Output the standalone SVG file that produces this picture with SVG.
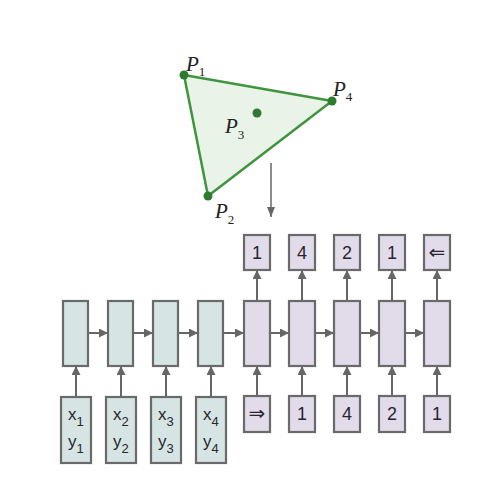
<svg xmlns="http://www.w3.org/2000/svg" width="485" height="504" viewBox="0 0 485 504">
<defs>
<marker id="ah" viewBox="0 0 10 10" refX="10" refY="5" markerWidth="4.5" markerHeight="4.5" orient="auto" markerUnits="strokeWidth">
<path d="M0,0 L10,5 L0,10 z" fill="#666"/>
</marker>
<marker id="ah2" viewBox="0 0 10 10" refX="10" refY="5" markerWidth="7" markerHeight="7" orient="auto" markerUnits="strokeWidth">
<path d="M0,1 L10,5 L0,9 z" fill="#666"/>
</marker>
</defs>
<style>
.enc{fill:#d6e4e3;stroke:#6a6a6a;stroke-width:2.2}
.dec{fill:#e2dbe9;stroke:#6a6a6a;stroke-width:2.2}
.t{font-family:"Liberation Sans",Arial,sans-serif;font-size:18px;fill:#262630;text-anchor:middle}
.ar{font-family:"DejaVu Sans",sans-serif;font-size:20px;fill:#262630;text-anchor:middle}
.xy{font-family:"Liberation Sans",Arial,sans-serif;font-size:17px;fill:#262630}
.sub{font-size:13px}
.p{font-family:"Liberation Serif","Times New Roman",serif;font-style:italic;font-size:21px;fill:#222}
.ps{font-style:normal;font-size:13px}
.c{stroke:#666;stroke-width:2;fill:none;marker-end:url(#ah)}
</style>
<rect width="485" height="504" fill="#fff"/>

<g id="triangle">
<polygon points="184,75 332,101 208,196" fill="#e9f3e7" stroke="#3f9440" stroke-width="2.5" stroke-linejoin="round"/>
<circle cx="184" cy="75" r="4.5" fill="#2e7a30"/>
<circle cx="332" cy="101" r="4.5" fill="#2e7a30"/>
<circle cx="208" cy="196" r="4.5" fill="#2e7a30"/>
<circle cx="257" cy="113" r="4.5" fill="#2e7a30"/>
<text class="p" x="186" y="71">P<tspan class="ps" dy="5">1</tspan></text>
<text class="p" x="333" y="96">P<tspan class="ps" dy="5">4</tspan></text>
<text class="p" x="225" y="133">P<tspan class="ps" dy="6">3</tspan></text>
<text class="p" x="215" y="218">P<tspan class="ps" dy="6">2</tspan></text>
</g>

<g id="connectors">
<line x1="271" y1="163" x2="271" y2="217" stroke="#666" stroke-width="1.5" marker-end="url(#ah2)"/>
<line class="c" x1="88" y1="333" x2="108" y2="333"/>
<line class="c" x1="133" y1="333" x2="153" y2="333"/>
<line class="c" x1="178" y1="333" x2="198" y2="333"/>
<line class="c" x1="223" y1="333" x2="244" y2="333"/>
<line class="c" x1="270" y1="333" x2="289" y2="333"/>
<line class="c" x1="315" y1="333" x2="334" y2="333"/>
<line class="c" x1="360" y1="333" x2="379" y2="333"/>
<line class="c" x1="405" y1="333" x2="424" y2="333"/>
<line class="c" x1="76" y1="397" x2="76" y2="366"/>
<line class="c" x1="121" y1="397" x2="121" y2="366"/>
<line class="c" x1="166" y1="397" x2="166" y2="366"/>
<line class="c" x1="211" y1="397" x2="211" y2="366"/>
<line class="c" x1="257" y1="396" x2="257" y2="366"/>
<line class="c" x1="302" y1="396" x2="302" y2="366"/>
<line class="c" x1="347" y1="396" x2="347" y2="366"/>
<line class="c" x1="392" y1="396" x2="392" y2="366"/>
<line class="c" x1="437" y1="396" x2="437" y2="366"/>
<line class="c" x1="257" y1="301" x2="257" y2="270"/>
<line class="c" x1="302" y1="301" x2="302" y2="270"/>
<line class="c" x1="347" y1="301" x2="347" y2="270"/>
<line class="c" x1="392" y1="301" x2="392" y2="270"/>
<line class="c" x1="437" y1="301" x2="437" y2="270"/>
</g>

<g id="enc1"><rect class="enc" x="63" y="301" width="25" height="65"/></g>
<g id="enc2"><rect class="enc" x="108" y="301" width="25" height="65"/></g>
<g id="enc3"><rect class="enc" x="153" y="301" width="25" height="65"/></g>
<g id="enc4"><rect class="enc" x="198" y="301" width="25" height="65"/></g>

<g id="in1"><rect class="enc" x="61" y="397" width="30" height="66"/>
<text class="xy" x="68" y="420">x<tspan class="sub" dy="6">1</tspan></text>
<text class="xy" x="68" y="447">y<tspan class="sub" dy="6">1</tspan></text></g>
<g id="in2"><rect class="enc" x="106" y="397" width="30" height="66"/>
<text class="xy" x="113" y="420">x<tspan class="sub" dy="6">2</tspan></text>
<text class="xy" x="113" y="447">y<tspan class="sub" dy="6">2</tspan></text></g>
<g id="in3"><rect class="enc" x="151" y="397" width="30" height="66"/>
<text class="xy" x="158" y="420">x<tspan class="sub" dy="6">3</tspan></text>
<text class="xy" x="158" y="447">y<tspan class="sub" dy="6">3</tspan></text></g>
<g id="in4"><rect class="enc" x="196" y="397" width="30" height="66"/>
<text class="xy" x="203" y="420">x<tspan class="sub" dy="6">4</tspan></text>
<text class="xy" x="203" y="447">y<tspan class="sub" dy="6">4</tspan></text></g>

<g id="dec1"><rect class="dec" x="244" y="301" width="26" height="65"/></g>
<g id="dec2"><rect class="dec" x="289" y="301" width="26" height="65"/></g>
<g id="dec3"><rect class="dec" x="334" y="301" width="26" height="65"/></g>
<g id="dec4"><rect class="dec" x="379" y="301" width="26" height="65"/></g>
<g id="dec5"><rect class="dec" x="424" y="301" width="26" height="65"/></g>

<g id="out1"><rect class="dec" x="244" y="235" width="26" height="35"/><text class="t" x="257" y="259">1</text></g>
<g id="out2"><rect class="dec" x="289" y="235" width="26" height="35"/><text class="t" x="302" y="259">4</text></g>
<g id="out3"><rect class="dec" x="334" y="235" width="26" height="35"/><text class="t" x="347" y="259">2</text></g>
<g id="out4"><rect class="dec" x="379" y="235" width="26" height="35"/><text class="t" x="392" y="259">1</text></g>
<g id="out5"><rect class="dec" x="424" y="235" width="26" height="35"/><text class="ar" x="437" y="259">⇐</text></g>

<g id="din1"><rect class="dec" x="244" y="396" width="26" height="36"/><text class="ar" x="257" y="420">⇒</text></g>
<g id="din2"><rect class="dec" x="289" y="396" width="26" height="36"/><text class="t" x="302" y="420">1</text></g>
<g id="din3"><rect class="dec" x="334" y="396" width="26" height="36"/><text class="t" x="347" y="420">4</text></g>
<g id="din4"><rect class="dec" x="379" y="396" width="26" height="36"/><text class="t" x="392" y="420">2</text></g>
<g id="din5"><rect class="dec" x="424" y="396" width="26" height="36"/><text class="t" x="437" y="420">1</text></g>
</svg>
